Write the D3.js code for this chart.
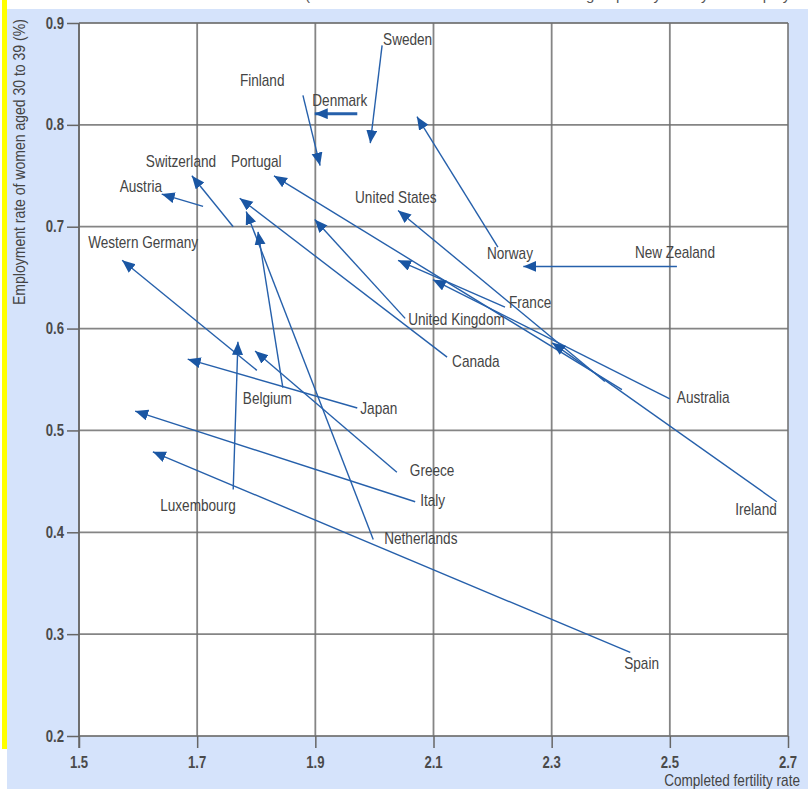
<!DOCTYPE html>
<html>
<head>
<meta charset="utf-8">
<script src="https://cdnjs.cloudflare.com/ajax/libs/d3/7.8.5/d3.min.js"></script>
<style>
  html, body { margin: 0; padding: 0; background: #ffffff; }
  svg { display: block; }
</style>
</head>
<body>
<svg id="chart" width="808" height="789"></svg>
<script>
// ---------------- DATA ----------------
const countries = ["Sweden", "Finland", "Denmark", "Norway", "New Zealand", "Switzerland",
  "Austria", "Portugal", "United States", "Western Germany", "France", "Australia",
  "United Kingdom", "Canada", "Netherlands", "Belgium", "Japan", "Greece", "Italy",
  "Luxembourg", "Spain", "Ireland"];
// start of each arrow (earlier period)
const fertilityStart  = [2.013, 1.879, 1.971, 2.209, 2.512, 1.761, 1.710, 2.419, 2.390, 1.801, 2.221, 2.500,
                         2.052, 2.123, 1.998, 1.845, 1.971, 2.038, 2.069, 1.761, 2.433, 2.681];
const employmentStart = [0.878, 0.829, 0.811, 0.680, 0.661, 0.700, 0.720, 0.540, 0.548, 0.559, 0.621, 0.531,
                         0.610, 0.572, 0.393, 0.542, 0.522, 0.459, 0.430, 0.442, 0.282, 0.430];
// end of each arrow (later period)
const fertilityEnd    = [1.993, 1.908, 1.899, 2.072, 2.252, 1.691, 1.640, 1.830, 2.040, 1.573, 2.040, 2.099,
                         1.899, 1.772, 1.783, 1.803, 1.684, 1.798, 1.595, 1.769, 1.625, 2.301];
const employmentEnd   = [0.782, 0.760, 0.811, 0.808, 0.661, 0.750, 0.732, 0.750, 0.716, 0.667, 0.667, 0.648,
                         0.707, 0.728, 0.715, 0.695, 0.570, 0.578, 0.519, 0.587, 0.479, 0.586];
const xTicks = [1.5, 1.7, 1.9, 2.1, 2.3, 2.5, 2.7];
const yTicks = [0.2, 0.3, 0.4, 0.5, 0.6, 0.7, 0.8, 0.9];
const xTitle = "Completed fertility rate";
const yTitle = "Employment rate of women aged 30 to 39 (%)";
const noteText = "(women born in 1935 and 1955: countries grouped by fertility and employment)";

// ---------------- LAYOUT (label placement, pixels) ----------------
const labelLayout = {
  "Sweden":          {at: "start", dx: 1,   dy: 0,  anchor: "start"},
  "Finland":         {at: "start", dx: -63, dy: -9, anchor: "start"},
  "Denmark":         {at: "start", dx: -45, dy: -8, anchor: "start"},
  "Norway":          {at: "start", dx: -11, dy: 12, anchor: "start"},
  "New Zealand":     {at: "start", dx: -42, dy: -8, anchor: "start"},
  "Switzerland":     {at: "end",   dx: -46, dy: -9, anchor: "start"},
  "Austria":         {at: "end",   dx: -42, dy: -2, anchor: "start"},
  "Portugal":        {at: "end",   dx: -43, dy: -9, anchor: "start"},
  "United States":   {at: "end",   dx: -43, dy: -7, anchor: "start"},
  "Western Germany": {at: "end",   dx: -34, dy: -12, anchor: "start"},
  "France":          {at: "start", dx: 4,   dy: 1,  anchor: "start"},
  "Australia":       {at: "start", dx: 7,   dy: 4,  anchor: "start"},
  "United Kingdom":  {at: "start", dx: 3,   dy: 7,  anchor: "start"},
  "Canada":          {at: "start", dx: 5,   dy: 10, anchor: "start"},
  "Netherlands":     {at: "start", dx: 11,  dy: 5,  anchor: "start"},
  "Belgium":         {at: "start", dx: -40, dy: 16, anchor: "start"},
  "Japan":           {at: "start", dx: 3,   dy: 6,  anchor: "start"},
  "Greece":          {at: "start", dx: 13,  dy: 4,  anchor: "start"},
  "Italy":           {at: "start", dx: 5,   dy: 4,  anchor: "start"},
  "Luxembourg":      {at: "start", dx: -73, dy: 21, anchor: "start"},
  "Spain":           {at: "start", dx: -6,  dy: 17, anchor: "start"},
  "Ireland":         {at: "start", dx: 0,   dy: 13, anchor: "end"}
};
const thick = {"Denmark": 3};

// ---------------- DRAW ----------------
const svg = d3.select("#chart");
const W = 808, H = 789;
const plot = {left: 79, right: 788, top: 23, bottom: 736};
const FONT = "'Liberation Sans', Arial, sans-serif";
const SQ = 0.85; // horizontal condensing of text
const blue = "#2660ab";

function ctext(parent, px, py, str, size, opts = {}) {
  return parent.append("text")
    .attr("transform", `translate(${px},${py}) scale(${opts.sq || SQ},1)`)
    .attr("text-anchor", opts.anchor || "start")
    .attr("font-family", FONT).attr("font-size", size)
    .attr("font-weight", opts.weight || "normal")
    .attr("fill", opts.fill || "#444")
    .text(str);
}

// background
svg.append("rect").attr("x", 0).attr("y", 0).attr("width", W).attr("height", H).attr("fill", "#ffffff");
// cut-off note at very top
ctext(svg, 305, 0, noteText, 15, {fill: "#555", sq: 1});
svg.append("rect").attr("x", 7).attr("y", 9).attr("width", W - 7).attr("height", H - 9).attr("fill", "#d5e3fb");
svg.append("rect").attr("x", 2).attr("y", 0).attr("width", 5).attr("height", 749).attr("fill", "#ffff00");

const x = d3.scaleLinear().domain([1.5, 2.7]).range([plot.left, plot.right]);
const y = d3.scaleLinear().domain([0.2, 0.9]).range([plot.bottom, plot.top]);

svg.append("rect").attr("x", plot.left).attr("y", plot.top)
  .attr("width", plot.right - plot.left).attr("height", plot.bottom - plot.top).attr("fill", "#ffffff");

const gridColor = "#707070";
svg.append("g").selectAll("line").data(xTicks).join("line")
  .attr("x1", d => x(d)).attr("x2", d => x(d))
  .attr("y1", plot.top).attr("y2", plot.bottom)
  .attr("stroke", gridColor).attr("stroke-width", 1.8).attr("opacity", 0.85);
svg.append("g").selectAll("line").data(yTicks).join("line")
  .attr("x1", plot.left).attr("x2", plot.right)
  .attr("y1", d => y(d)).attr("y2", d => y(d))
  .attr("stroke", gridColor).attr("stroke-width", 1.8).attr("opacity", 0.85);

// axes with ticks (labels drawn condensed separately)
const yAxis = d3.axisLeft(y).tickValues(yTicks).tickFormat("").tickSize(12);
const gy = svg.append("g").attr("transform", `translate(${plot.left},0)`).call(yAxis);
gy.select(".domain").remove();
gy.selectAll(".tick line").attr("stroke", "#666").attr("stroke-width", 1.5);
svg.append("line").attr("x1", plot.left).attr("x2", plot.left).attr("y1", plot.top).attr("y2", plot.bottom + 12)
  .attr("stroke", "#666").attr("stroke-width", 1.5);
const fmt = d3.format(".1f");
yTicks.forEach(t => ctext(svg, 64, y(t) + 5.5, fmt(t), 16, {anchor: "end", weight: "bold", fill: "#4a4a4a", sq: 0.82}));

const xAxis = d3.axisBottom(x).tickValues(xTicks).tickFormat("").tickSize(12);
const gx = svg.append("g").attr("transform", `translate(0,${plot.bottom})`).call(xAxis);
gx.select(".domain").remove();
gx.selectAll(".tick line").attr("stroke", "#666").attr("stroke-width", 1.5);
xTicks.forEach(t => ctext(svg, x(t), 768, fmt(t), 16, {anchor: "middle", weight: "bold", fill: "#4a4a4a", sq: 0.82}));

// axis titles
ctext(svg, 800, 786, xTitle, 16, {anchor: "end"});
svg.append("text").attr("transform", `translate(25,305) rotate(-90) scale(${SQ},1)`).attr("text-anchor", "start")
  .attr("font-family", FONT).attr("font-size", 16.5).attr("fill", "#444").text(yTitle);

// arrow marker
svg.append("defs").append("marker")
  .attr("id", "head").attr("markerUnits", "userSpaceOnUse")
  .attr("markerWidth", 14).attr("markerHeight", 12)
  .attr("refX", 13).attr("refY", 5.5).attr("orient", "auto")
  .append("path").attr("d", "M0,0 L13,5.5 L0,11 Z").attr("fill", "#1a56a3");

const rows = countries.map((c, i) => ({
  name: c, x0: fertilityStart[i], y0: employmentStart[i], x1: fertilityEnd[i], y1: employmentEnd[i]
}));

svg.append("g").selectAll("line").data(rows).join("line")
  .attr("x1", d => x(d.x0)).attr("y1", d => y(d.y0))
  .attr("x2", d => x(d.x1)).attr("y2", d => y(d.y1))
  .attr("stroke", blue).attr("stroke-width", d => thick[d.name] || 1.4)
  .attr("marker-end", "url(#head)");

const gl = svg.append("g");
rows.forEach(d => {
  const L = labelLayout[d.name];
  const px = (L.at === "start" ? x(d.x0) : x(d.x1)) + L.dx;
  const py = (L.at === "start" ? y(d.y0) : y(d.y1)) + L.dy;
  ctext(gl, px, py, d.name, 16, {anchor: L.anchor});
});
</script>
</body>
</html>
